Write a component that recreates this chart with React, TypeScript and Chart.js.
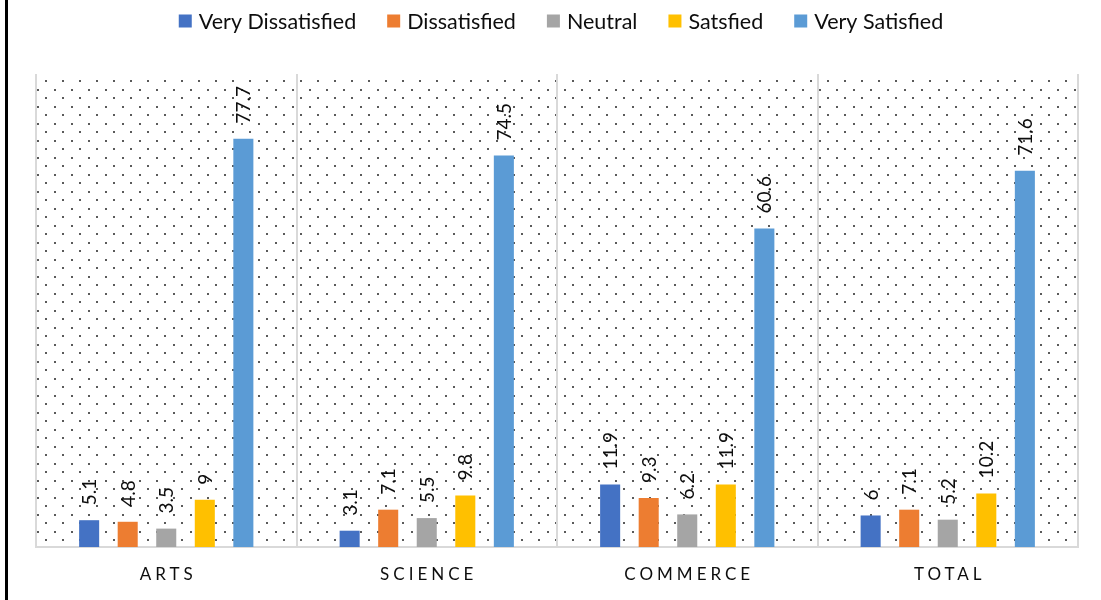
import React, { useEffect, useRef } from "react";
import { Chart, registerables } from "chart.js";

Chart.register(...registerables);

const categories = ["ARTS", "SCIENCE", "COMMERCE", "TOTAL"];
const seriesNames = ["Very Dissatisfied", "Dissatisfied", "Neutral", "Satsfied", "Very Satisfied"];
const veryDissatisfied = [5.1, 3.1, 11.9, 6];
const dissatisfied = [4.8, 7.1, 9.3, 7.1];
const neutral = [3.5, 5.5, 6.2, 5.2];
const satisfied = [9, 9.8, 11.9, 10.2];
const verySatisfied = [77.7, 74.5, 60.6, 71.6];
const colors = ["#4472C4", "#ED7D31", "#A5A5A5", "#FFC000", "#5B9BD5"];
const yMax = 90;

const FONT = "Lato, 'Liberation Sans', sans-serif";

function makePattern(ctx: CanvasRenderingContext2D) {
  const c = document.createElement("canvas");
  c.width = 17;
  c.height = 17;
  const p = c.getContext("2d")!;
  p.fillStyle = "#ffffff";
  p.fillRect(0, 0, 17, 17);
  p.fillStyle = "#5a5a5a";
  p.fillRect(3, 4, 2, 2);
  p.fillRect(11, 12, 2, 2);
  return ctx.createPattern(c, "repeat");
}

const decorPlugin = {
  id: "decor",
  beforeDraw(chart: any) {
    const { ctx, chartArea } = chart;
    ctx.save();
    ctx.fillStyle = "#ffffff";
    ctx.fillRect(0, 0, chart.width, chart.height);
    const pat = makePattern(ctx);
    if (pat) {
      ctx.fillStyle = pat;
      ctx.fillRect(chartArea.left, chartArea.top, chartArea.right - chartArea.left, chartArea.bottom - chartArea.top);
    }
    ctx.fillStyle = "#000000";
    ctx.fillRect(5, 0, 3, chart.height);
    ctx.restore();
  },
  afterDraw(chart: any) {
    const { ctx, chartArea } = chart;
    ctx.save();
    // legend
    ctx.font = `21.5px ${FONT}`;
    ctx.textBaseline = "middle";
    ctx.textAlign = "left";
    const box = 13, gapBox = 7, gapItem = 31;
    const widths = seriesNames.map((n) => box + gapBox + ctx.measureText(n).width);
    const total = widths.reduce((a, b) => a + b, 0) + gapItem * (widths.length - 1);
    let x = 561 - total / 2;
    const ly = 21;
    seriesNames.forEach((n, i) => {
      ctx.fillStyle = colors[i];
      ctx.fillRect(x, ly - box / 2, box, box);
      ctx.fillStyle = "#0d0d0d";
      ctx.fillText(n, x + box + gapBox, ly + 1);
      x += widths[i] + gapItem;
    });
    // x labels
    const xs = chart.scales.x;
    ctx.font = `17px ${FONT}`;
    (ctx as any).letterSpacing = "4px";
    ctx.fillStyle = "#0d0d0d";
    ctx.textAlign = "center";
    categories.forEach((c, i) => {
      const px = xs.getPixelForValue(i);
      ctx.fillText(c, px + 2, chartArea.bottom + 28);
    });
    (ctx as any).letterSpacing = "0px";
    // data labels
    ctx.font = `19px ${FONT}`;
    ctx.textAlign = "left";
    ctx.textBaseline = "middle";
    chart.data.datasets.forEach((ds: any, di: number) => {
      const meta = chart.getDatasetMeta(di);
      meta.data.forEach((el: any, i: number) => {
        ctx.save();
        ctx.translate(el.x, el.y - 15);
        ctx.rotate(-Math.PI / 2);
        ctx.fillStyle = "#0d0d0d";
        ctx.fillText(String(ds.data[i]), 0, 1);
        ctx.restore();
      });
    });
    ctx.restore();
  },
};

export default function App() {
  const ref = useRef<HTMLCanvasElement>(null);
  useEffect(() => {
    if (!ref.current) return;
    const series = [veryDissatisfied, dissatisfied, neutral, satisfied, verySatisfied];
    const chart = new Chart(ref.current, {
      type: "bar",
      data: {
        labels: categories,
        datasets: series.map((d, i) => ({
          label: seriesNames[i],
          data: d,
          backgroundColor: colors[i],
          borderWidth: 0,
          barPercentage: 0.52,
          categoryPercentage: 0.74,
        })),
      },
      options: {
        animation: false,
        responsive: false,
        devicePixelRatio: 1,
        layout: { padding: { left: 36, right: 23, top: 74, bottom: 53 } },
        plugins: { legend: { display: false }, tooltip: { enabled: false } },
        scales: {
          x: {
            ticks: { display: false },
            grid: { display: true, color: "#d9d9d9", lineWidth: 2, drawTicks: false, offset: true },
            border: { display: true, color: "#d9d9d9", width: 2 },
          },
          y: {
            display: false,
            min: 0,
            max: yMax,
          },
        },
      },
      plugins: [decorPlugin],
    });
    return () => chart.destroy();
  }, []);
  return (
    <div style={{ position: "absolute", left: 0, top: 0, width: 1101, height: 600 }}>
      <canvas ref={ref} width={1101} height={600} />
    </div>
  );
}
